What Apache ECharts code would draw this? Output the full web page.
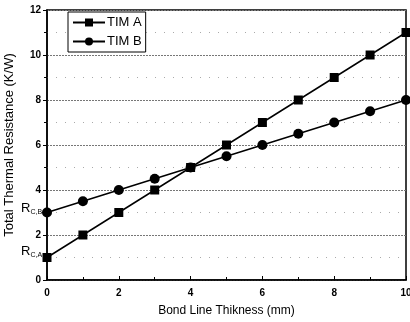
<!DOCTYPE html>
<html>
<head>
<meta charset="utf-8">
<script src="https://cdn.jsdelivr.net/npm/echarts@6/dist/echarts.min.js"></script>
<style>
  html, body { margin: 0; padding: 0; background: #fff; }
  #chart { width: 410px; height: 322px; }
</style>
</head>
<body>
<div id="chart"></div>
<script>
const thickness = [0, 1, 2, 3, 4, 5, 6, 7, 8, 9, 10];
const timA = [1, 2, 3, 4, 5, 6, 7, 8, 9, 10, 11];
const timB = [3, 3.5, 4, 4.5, 5, 5.5, 6, 6.5, 7, 7.5, 8];

const font = 'Liberation Sans, Arial, sans-serif';
const el = document.getElementById('chart');
const myChart = echarts.init(el);
myChart.setOption({
  animation: false,
  grid: {
    left: 47, right: 4, top: 10, bottom: 42,
    outerBoundsMode: 'none', containLabel: false,
    show: true, borderColor: '#000', borderWidth: 1.5
  },
  legend: {
    left: 68, top: 12,
    orient: 'vertical',
    itemWidth: 32, itemHeight: 10, itemGap: 6,
    padding: [4, 4, 4, 4],
    borderColor: '#000', borderWidth: 1,
    backgroundColor: '#fff',
    textStyle: { fontFamily: font, fontSize: 13, color: '#000', padding: [0, 0, 0, -3] },
    data: ['TIM A', 'TIM B']
  },
  xAxis: {
    type: 'value', min: 0, max: 10, interval: 2,
    name: 'Bond Line Thikness (mm)', nameLocation: 'middle', nameGap: 25,
    nameTextStyle: { fontFamily: font, fontSize: 12, color: '#000' },
    axisLine: { lineStyle: { color: '#000', width: 1.5 } },
    axisTick: { inside: true, length: 4, lineStyle: { color: '#000' } },
    minorTick: { show: true, splitNumber: 2, length: 3, lineStyle: { color: '#000' } },
    axisLabel: { fontFamily: font, fontSize: 10, fontWeight: 'bold', color: '#000', margin: 8 },
    splitLine: { show: false }
  },
  yAxis: {
    type: 'value', min: 0, max: 12, interval: 2,
    name: 'Total Thermal Resistance (K/W)', nameLocation: 'middle', nameGap: 31,
    nameTextStyle: { fontFamily: font, fontSize: 13, color: '#000' },
    axisLine: { lineStyle: { color: '#000', width: 1.5 } },
    axisTick: { length: 4, lineStyle: { color: '#000' } },
    minorTick: { show: true, splitNumber: 2, length: 3, lineStyle: { color: '#000' } },
    axisLabel: { fontFamily: font, fontSize: 10, fontWeight: 'bold', color: '#000', margin: 6 },
    splitLine: { show: true, lineStyle: { color: '#777', type: [2, 1], width: 1 } },
    minorSplitLine: { show: true, lineStyle: { color: '#aaa', type: [1, 8], width: 1 } }
  },
  series: [
    {
      name: 'TIM A', type: 'line',
      data: thickness.map((x, i) => [x, timA[i]]),
      symbol: 'rect', symbolSize: 9,
      lineStyle: { color: '#000', width: 1.5 },
      itemStyle: { color: '#000' }
    },
    {
      name: 'TIM B', type: 'line',
      data: thickness.map((x, i) => [x, timB[i]]),
      symbol: 'circle', symbolSize: 10,
      lineStyle: { color: '#000', width: 1.5 },
      itemStyle: { color: '#000' }
    }
  ],
  graphic: [
    {
      type: 'text', left: 21, top: 202, z: 100,
      style: {
        text: '{m|R}{s|C,B}', fill: '#000',
        rich: { m: { fontFamily: font, fontSize: 13 }, s: { fontFamily: font, fontSize: 7, padding: [8, 0, 0, 0] } }
      }
    },
    {
      type: 'text', left: 21, top: 245, z: 100,
      style: {
        text: '{m|R}{s|C,A}', fill: '#000',
        rich: { m: { fontFamily: font, fontSize: 13 }, s: { fontFamily: font, fontSize: 7, padding: [8, 0, 0, 0] } }
      }
    }
  ]
});
</script>
</body>
</html>
